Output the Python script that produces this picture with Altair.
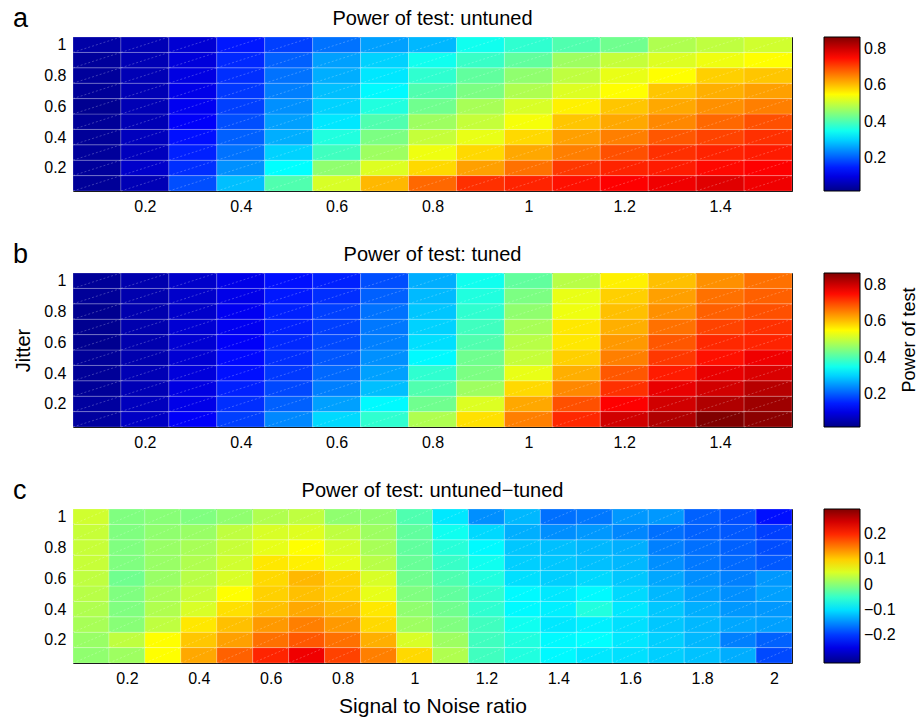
import altair as alt
import pandas as pd

FONT = "Liberation Sans"

# ---- data ----
jitter = [0.1, 0.2, 0.3, 0.4, 0.5, 0.6, 0.7, 0.8, 0.9, 1.0]
snr_ab = [0.1, 0.2, 0.3, 0.4, 0.5, 0.6, 0.7, 0.8, 0.9, 1.0, 1.1, 1.2, 1.3, 1.4, 1.5]
snr_c = [0.1, 0.2, 0.3, 0.4, 0.5, 0.6, 0.7, 0.8, 0.9, 1.0,
         1.1, 1.2, 1.3, 1.4, 1.5, 1.6, 1.7, 1.8, 1.9, 2.0]

# rows: jitter 0.1 ... 1.0 ; columns: snr
untuned = [
    [0.034, 0.060, 0.190, 0.284, 0.403, 0.516, 0.607, 0.673, 0.720, 0.730, 0.746, 0.760, 0.772, 0.785, 0.772],
    [0.037, 0.079, 0.164, 0.245, 0.337, 0.456, 0.520, 0.580, 0.627, 0.666, 0.713, 0.730, 0.737, 0.753, 0.760],
    [0.037, 0.067, 0.152, 0.220, 0.300, 0.390, 0.468, 0.535, 0.580, 0.620, 0.654, 0.693, 0.720, 0.730, 0.737],
    [0.034, 0.067, 0.138, 0.205, 0.270, 0.363, 0.440, 0.500, 0.530, 0.580, 0.627, 0.654, 0.687, 0.704, 0.720],
    [0.034, 0.060, 0.120, 0.190, 0.258, 0.317, 0.403, 0.468, 0.500, 0.541, 0.595, 0.620, 0.647, 0.673, 0.693],
    [0.028, 0.060, 0.113, 0.178, 0.245, 0.300, 0.363, 0.430, 0.476, 0.516, 0.560, 0.595, 0.620, 0.640, 0.654],
    [0.034, 0.060, 0.105, 0.172, 0.231, 0.284, 0.333, 0.403, 0.440, 0.482, 0.520, 0.548, 0.595, 0.614, 0.627],
    [0.037, 0.060, 0.100, 0.164, 0.220, 0.270, 0.317, 0.376, 0.417, 0.456, 0.495, 0.530, 0.548, 0.587, 0.595],
    [0.037, 0.060, 0.094, 0.159, 0.205, 0.258, 0.300, 0.350, 0.383, 0.417, 0.468, 0.500, 0.520, 0.535, 0.548],
    [0.047, 0.060, 0.087, 0.145, 0.178, 0.220, 0.258, 0.278, 0.350, 0.376, 0.403, 0.430, 0.482, 0.495, 0.509],
]

tuned = [
    [0.040, 0.073, 0.120, 0.178, 0.238, 0.305, 0.376, 0.482, 0.573, 0.654, 0.726, 0.798, 0.825, 0.865, 0.855],
    [0.040, 0.067, 0.105, 0.164, 0.205, 0.258, 0.333, 0.430, 0.520, 0.620, 0.693, 0.760, 0.798, 0.825, 0.840],
    [0.034, 0.060, 0.100, 0.152, 0.185, 0.231, 0.284, 0.403, 0.468, 0.580, 0.647, 0.720, 0.778, 0.798, 0.819],
    [0.034, 0.060, 0.094, 0.138, 0.172, 0.212, 0.258, 0.376, 0.440, 0.530, 0.614, 0.687, 0.737, 0.778, 0.790],
    [0.034, 0.054, 0.087, 0.132, 0.164, 0.198, 0.245, 0.333, 0.430, 0.500, 0.587, 0.654, 0.713, 0.746, 0.772],
    [0.027, 0.054, 0.087, 0.120, 0.159, 0.185, 0.231, 0.310, 0.403, 0.489, 0.567, 0.633, 0.687, 0.726, 0.730],
    [0.027, 0.054, 0.087, 0.113, 0.152, 0.178, 0.225, 0.300, 0.390, 0.476, 0.567, 0.614, 0.666, 0.704, 0.720],
    [0.027, 0.054, 0.079, 0.113, 0.152, 0.178, 0.220, 0.290, 0.376, 0.456, 0.535, 0.600, 0.640, 0.680, 0.693],
    [0.034, 0.054, 0.079, 0.105, 0.145, 0.164, 0.205, 0.280, 0.363, 0.440, 0.530, 0.587, 0.627, 0.666, 0.680],
    [0.034, 0.054, 0.079, 0.105, 0.138, 0.152, 0.190, 0.270, 0.350, 0.417, 0.489, 0.560, 0.600, 0.640, 0.666],
]

diff = [
    [0.005, 0.013, 0.071, 0.123, 0.166, 0.202, 0.233, 0.184, 0.148, 0.094, 0.024, -0.043, -0.062, -0.085, -0.095, -0.100, -0.110, -0.118, -0.130, -0.190],
    [0.010, 0.033, 0.071, 0.105, 0.128, 0.157, 0.171, 0.157, 0.119, 0.048, 0.013, -0.043, -0.062, -0.084, -0.081, -0.095, -0.110, -0.124, -0.157, -0.176],
    [0.019, 0.000, 0.033, 0.085, 0.109, 0.132, 0.148, 0.132, 0.094, 0.013, -0.005, -0.043, -0.072, -0.095, -0.090, -0.100, -0.115, -0.124, -0.134, -0.138],
    [0.024, -0.005, 0.024, 0.048, 0.090, 0.109, 0.123, 0.114, 0.085, 0.005, -0.014, -0.053, -0.084, -0.090, -0.062, -0.095, -0.115, -0.129, -0.143, -0.143],
    [0.029, -0.005, 0.019, 0.038, 0.071, 0.099, 0.109, 0.099, 0.057, -0.005, -0.023, -0.053, -0.084, -0.095, -0.084, -0.104, -0.124, -0.138, -0.148, -0.138],
    [0.033, -0.014, 0.010, 0.029, 0.048, 0.094, 0.114, 0.099, 0.048, -0.014, -0.034, -0.062, -0.100, -0.110, -0.104, -0.115, -0.134, -0.148, -0.157, -0.143],
    [0.038, -0.005, 0.010, 0.024, 0.043, 0.085, 0.080, 0.057, 0.029, -0.019, -0.048, -0.072, -0.110, -0.115, -0.119, -0.124, -0.148, -0.162, -0.171, -0.181],
    [0.038, -0.005, 0.010, 0.019, 0.038, 0.057, 0.071, 0.048, 0.019, -0.023, -0.058, -0.084, -0.115, -0.119, -0.124, -0.129, -0.157, -0.167, -0.176, -0.188],
    [0.038, -0.005, 0.005, 0.010, 0.033, 0.048, 0.052, 0.033, 0.013, -0.023, -0.072, -0.104, -0.129, -0.148, -0.143, -0.153, -0.167, -0.176, -0.181, -0.196],
    [0.043, -0.005, 0.000, -0.005, 0.005, 0.024, 0.033, 0.005, 0.005, -0.034, -0.095, -0.148, -0.124, -0.167, -0.162, -0.143, -0.143, -0.176, -0.188, -0.225],
]

xticks_ab = [0.2, 0.4, 0.6, 0.8, 1.0, 1.2, 1.4]
xticks_c = [0.2, 0.4, 0.6, 0.8, 1.0, 1.2, 1.4, 1.6, 1.8, 2.0]
yticks = [0.2, 0.4, 0.6, 0.8, 1.0]
cb_ticks_ab = [0.2, 0.4, 0.6, 0.8]
cb_ticks_c = [-0.2, -0.1, 0.0, 0.1, 0.2]

# ---- jet colormap ----
jet_pos = [0.0, 0.125, 0.375, 0.625, 0.875, 1.0]
jet_col = ["#000088", "#0000ff", "#00ffff", "#ffff00", "#ff0000", "#800000"]
clim_ab = (0.02, 0.865)
clim_c = (-0.31, 0.30)


def jet_scale(lo, hi):
    return alt.Scale(domain=[lo + p * (hi - lo) for p in jet_pos],
                     range=jet_col, interpolate="rgb")


def to_long(mat, xs):
    rows = []
    for j, yv in enumerate(jitter):
        for i, xv in enumerate(xs):
            rows.append({"snr": xv, "jitter": yv, "power": mat[j][i]})
    return pd.DataFrame(rows)


W, H = 719, 154


def text_layer(txt, x, y, size, angle=0, align="center"):
    kw = dict(fontSize=size, font=FONT, align=align, baseline="alphabetic",
              color="black")
    if angle:
        kw["angle"] = angle
        kw["baseline"] = "middle"
    return alt.Chart(pd.DataFrame({"t": [txt]})).mark_text(**kw).encode(
        text="t:N", x=alt.value(x), y=alt.value(y))


def panel(mat, xs, xdom, xticks, clim, cbticks, title, letter,
          xtitle=None, ytitle=None, side_title=None):
    df = to_long(mat, xs)
    base = alt.Chart(df).transform_calculate(
        x0="datum.snr - 0.05", x1="datum.snr + 0.05",
        y0="datum.jitter - 0.05", y1="datum.jitter + 0.05")
    xaxis = alt.Axis(values=xticks, format="~g", title=xtitle, labelOverlap=False,
                     tickCount=len(xticks),
                     titleFontSize=21, titleFontWeight="normal", titlePadding=9)
    yaxis = alt.Axis(values=yticks, format="~g", title=ytitle, labelOverlap=False,
                     tickCount=len(yticks), labelFlush=False, labelBound=False,
                     titleFontSize=20, titleFontWeight="normal", titlePadding=10)
    xs_ = alt.X("x0:Q", scale=alt.Scale(domain=xdom, nice=False, zero=False), axis=xaxis)
    ys_ = alt.Y("y0:Q", scale=alt.Scale(domain=[0.05, 1.05], nice=False, zero=False), axis=yaxis)
    rect = base.mark_rect(stroke="white", strokeWidth=0.7, strokeOpacity=0.3).encode(
        x=xs_, x2="x1:Q", y=ys_, y2="y1:Q",
        color=alt.Color("power:Q", scale=jet_scale(*clim),
                        legend=alt.Legend(
                            title=None, values=cbticks, format="~g",
                            gradientLength=H, gradientThickness=36,
                            gradientStrokeColor="black", gradientStrokeWidth=1,
                            labelFontSize=16, labelFont=FONT, labelColor="black",
                            labelOffset=4, offset=32, padding=0, labelOverlap=False,
                            direction="vertical", orient="right")))
    diag = base.mark_rule(color="white", strokeWidth=0.6, strokeDash=[2, 2],
                          opacity=0.4).encode(x="x0:Q", x2="x1:Q", y="y0:Q", y2="y1:Q")
    layers = [rect, diag,
              text_layer(letter, -60, -10, 27, align="left"),
              text_layer(title, W / 2, -12, 20)]
    if side_title:
        layers.append(text_layer(side_title, 837, H / 2 - 10, 18, angle=270))
    return alt.layer(*layers).properties(width=W, height=H)


pa = panel(untuned, snr_ab, [0.05, 1.55], xticks_ab, clim_ab, cb_ticks_ab,
           "Power of test: untuned", "a")
pb = panel(tuned, snr_ab, [0.05, 1.55], xticks_ab, clim_ab, cb_ticks_ab,
           "Power of test: tuned", "b", ytitle="Jitter", side_title="Power of test")
pc = panel(diff, snr_c, [0.05, 2.05], xticks_c, clim_c, cb_ticks_c,
           "Power of test: untuned\u2212tuned", "c", xtitle="Signal to Noise ratio")

chart = alt.vconcat(pa, pb, pc, spacing=82, bounds="flush").resolve_scale(
    color="independent", x="independent", y="independent"
).properties(
    padding={"left": 12, "top": 4, "right": 0, "bottom": 0}
).configure(font=FONT).configure_view(
    stroke="black", strokeWidth=1
).configure_axis(
    labelFont=FONT, labelFontSize=16, labelColor="black", ticks=False,
    domain=False, grid=False, labelPadding=7, titleFont=FONT, titleColor="black",
    labelOverlap=False
)

chart.save("out.html", embed_options={"renderer": "svg", "actions": False})
